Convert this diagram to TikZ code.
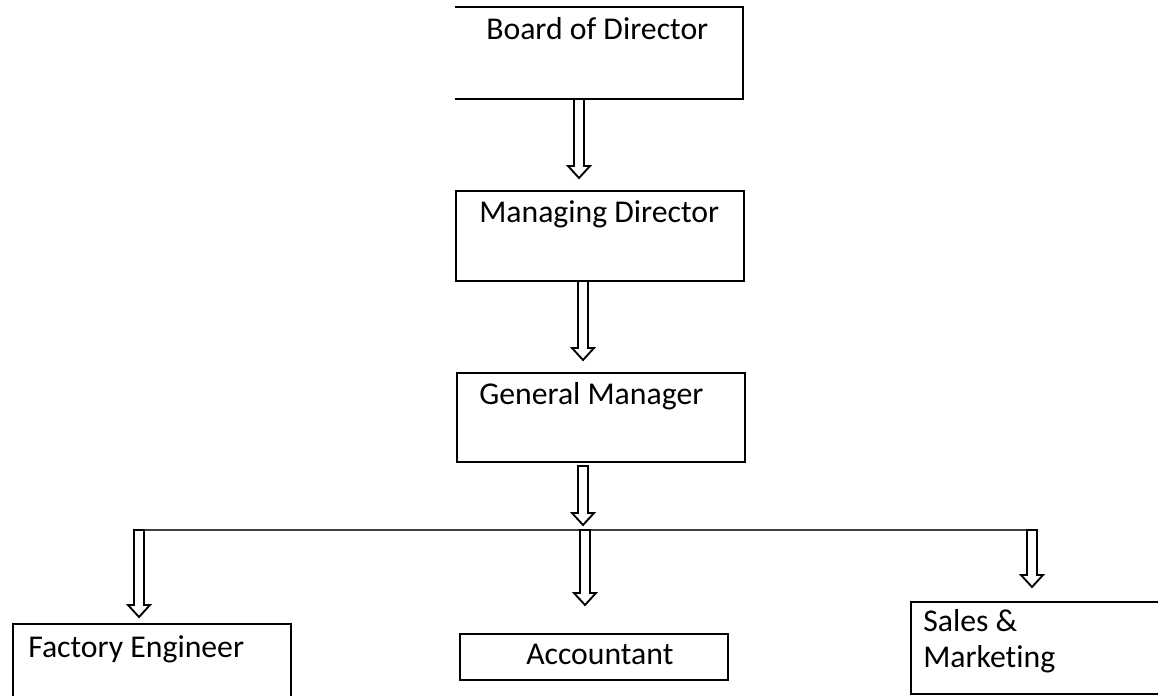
\documentclass[tikz,border=0pt]{standalone}
\usepackage{fontspec}
\setmainfont[Ligatures=NoCommon]{Carlito}
\begin{document}
\begin{tikzpicture}[x=0.75pt,y=-0.75pt,
  box/.style={draw=black,line width=1.7pt,rectangle,inner sep=0pt,anchor=north west},
  boxline/.style={draw=black,line width=1.7pt},
  lbl/.style={inner sep=0pt,anchor=base west,font=\fontsize{23.8}{28}\selectfont},
  hollow/.style={draw=black,fill=white,line width=1.4pt,line join=miter},
  bus/.style={draw=black!75,line width=1pt}]
\useasboundingbox (0,0) rectangle (1158,696);
\clip (0,0) rectangle (1158,696);
% boxes
\coordinate (bodnw) at (455,7);
\coordinate (bodne) at (743,7);
\coordinate (bodse) at (743,99);
\coordinate (bodsw) at (455,99);
\draw[boxline] (bodnw) -- (bodne) -- (bodse) -- (bodsw);
\node[box,minimum width=288*0.75pt,minimum height=90*0.75pt] (md) at (455,190) {};
\node[box,minimum width=288*0.75pt,minimum height=89*0.75pt] (gm) at (456,372) {};
\node[box,minimum width=278*0.75pt,minimum height=100*0.75pt] (fe) at (12,623) {};
\node[box,minimum width=268*0.75pt,minimum height=46*0.75pt] (acc) at (459,633) {};
\node[box,minimum width=270*0.75pt,minimum height=92*0.75pt] (sm) at (910,601) {};
% labels
\node[lbl] (tbod) at (486,39) {Board of Director};
\node[lbl] (tmd) at (479,222) {Managing Director};
\node[lbl] (tgm) at (479,404) {General Manager};
\node[lbl] (tfe) at (28,657) {Factory Engineer};
\node[lbl] (tacc) at (526,664) {Accountant};
\node[lbl] (tsm1) at (923,631) {Sales \&};
\node[lbl] (tsm2) at (923,667) {Marketing};
% bus line
\coordinate (busL) at (144,530);
\coordinate (busR) at (1027,530);
\draw[bus] (busL) -- (busR);
% hollow block arrows: x centre, top, tip
\newcommand\hollowarrow[3]{%
  \draw[hollow] ({#1-5},#2) -- ({#1-5},{#3-12}) -- ({#1-11},{#3-12}) -- (#1,#3)
    -- ({#1+11},{#3-12}) -- ({#1+5},{#3-12}) -- ({#1+5},#2) -- cycle;}
\hollowarrow{579}{99}{178}
\hollowarrow{583}{281}{360}
\hollowarrow{583}{466}{525}
\hollowarrow{585}{530}{605}
\hollowarrow{139}{530}{617}
\hollowarrow{1032}{530}{587}
\end{tikzpicture}
\end{document}
